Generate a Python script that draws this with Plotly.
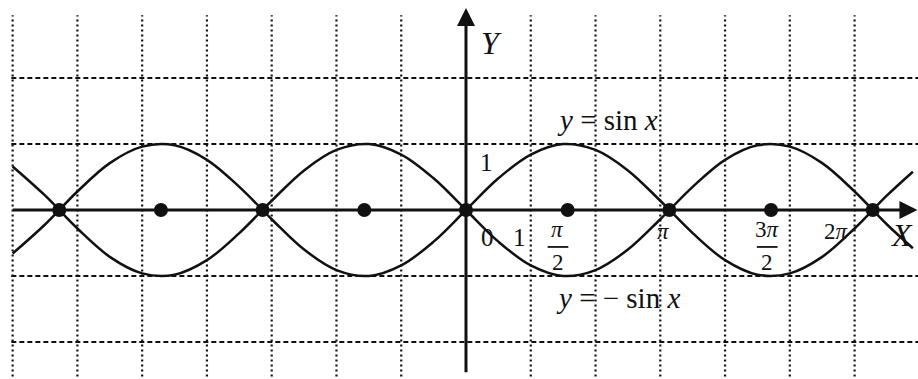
import plotly.graph_objects as go

# ---- data ----
x_pts = [-7.0, -6.5, -6.0, -5.5, -5.0, -4.5, -4.0, -3.5, -3.0, -2.5, -2.0, -1.5, -1.0, -0.5,
         0.0, 0.5, 1.0, 1.5, 2.0, 2.5, 3.0, 3.5, 4.0, 4.5, 5.0, 5.5, 6.0, 6.5, 6.9]
sin_vals = [-0.66, -0.22, 0.28, 0.71, 0.96, 0.98, 0.76, 0.35, -0.14, -0.60, -0.91, -1.0, -0.84, -0.48,
            0.0, 0.48, 0.84, 1.0, 0.91, 0.60, 0.14, -0.35, -0.76, -0.98, -0.96, -0.71, -0.28, 0.22, 0.58]
neg_sin_vals = [0.66, 0.22, -0.28, -0.71, -0.96, -0.98, -0.76, -0.35, 0.14, 0.60, 0.91, 1.0, 0.84, 0.48,
                0.0, -0.48, -0.84, -1.0, -0.91, -0.60, -0.14, 0.35, 0.76, 0.98, 0.96, 0.71, 0.28, -0.22, -0.58]
dot_x = [-6.28, -4.71, -3.14, -1.57, 0.0, 1.57, 3.14, 4.71, 6.28]
dot_y = [0, 0, 0, 0, 0, 0, 0, 0, 0]

grid_x = [-7, -6, -5, -4, -3, -2, -1, 1, 2, 3, 4, 5, 6]
grid_y = [-2, -1, 1, 2]

# plain tick labels: (text, x, y)
plain_labels = [("1", 0.31, 0.72), ("0", 0.33, -0.42), ("1", 0.83, -0.42)]
pi_labels = [("<i>π</i>", 3.05, -0.32), ("2<i>π</i>", 5.72, -0.32)]
frac_labels = [("<i>π</i>", "2", 1.42), ("3<i>π</i>", "2", 4.65)]

INK = "#111111"
SERIF = "Liberation Serif, Times New Roman, serif"

fig = go.Figure()

fig.add_trace(go.Scatter(x=x_pts, y=sin_vals, mode="lines",
                         line=dict(color=INK, width=2.5, shape="spline", smoothing=1.0),
                         hoverinfo="skip", showlegend=False))
fig.add_trace(go.Scatter(x=x_pts, y=neg_sin_vals, mode="lines",
                         line=dict(color=INK, width=2.5, shape="spline", smoothing=1.0),
                         hoverinfo="skip", showlegend=False))
fig.add_trace(go.Scatter(x=dot_x, y=dot_y, mode="markers",
                         marker=dict(color=INK, size=14),
                         hoverinfo="skip", showlegend=False))

shapes = []
for gx in grid_x:
    shapes.append(dict(type="line", xref="x", yref="y", x0=gx, x1=gx, y0=-2.6, y1=2.95,
                       line=dict(color="#111111", width=2.2, dash="2px,3px"), layer="below"))
for gy in grid_y:
    shapes.append(dict(type="line", xref="x", yref="y", x0=-7.02, x1=7.0, y0=gy, y1=gy,
                       line=dict(color="#111111", width=2.2, dash="5px,3px"), layer="below"))
# fraction bars
for num, den, fx in frac_labels:
    shapes.append(dict(type="line", xref="x", yref="y", x0=fx - 0.16, x1=fx + 0.16,
                       y0=-0.56, y1=-0.56, line=dict(color=INK, width=1.8)))

annotations = []
# axes with arrows
annotations.append(dict(x=6.97, y=0, ax=-7.02, ay=0, xref="x", yref="y", axref="x", ayref="y",
                        showarrow=True, arrowhead=2, arrowsize=1.2, arrowwidth=3, arrowcolor=INK, text=""))
annotations.append(dict(x=0, y=3.06, ax=0, ay=-2.48, xref="x", yref="y", axref="x", ayref="y",
                        showarrow=True, arrowhead=2, arrowsize=1.2, arrowwidth=3, arrowcolor=INK, text=""))

def txt(t, x, y, size):
    return dict(text=t, x=x, y=y, xref="x", yref="y", showarrow=False,
                font=dict(family=SERIF, size=size, color=INK), xanchor="center", yanchor="middle")

annotations.append(txt("<i>Y</i>", 0.40, 2.53, 32))
annotations.append(txt("<i>X</i>", 6.72, -0.38, 32))
for t, x, y in plain_labels:
    annotations.append(txt(t, x, y, 25))
for t, x, y in pi_labels:
    annotations.append(txt(t, x, y, 23))
for num, den, fx in frac_labels:
    annotations.append(txt(num, fx, -0.30, 23))
    annotations.append(txt(den, fx, -0.80, 23))
annotations.append(txt("<i>y</i> = sin <i>x</i>", 2.19, 1.36, 29))
annotations.append(txt("<i>y</i> = − sin <i>x</i>", 2.35, -1.34, 29))

fig.update_layout(
    width=918, height=379,
    margin=dict(l=0, r=0, t=0, b=0),
    paper_bgcolor="white", plot_bgcolor="white",
    xaxis=dict(range=[-7.195, 6.979], visible=False, showgrid=False, zeroline=False),
    yaxis=dict(range=[-2.561, 3.182], visible=False, showgrid=False, zeroline=False),
    shapes=shapes, annotations=annotations,
)

fig.write_html("out.html", config={"displayModeBar": False},
               post_script="document.body.style.margin='0';document.body.style.overflow='hidden';")
